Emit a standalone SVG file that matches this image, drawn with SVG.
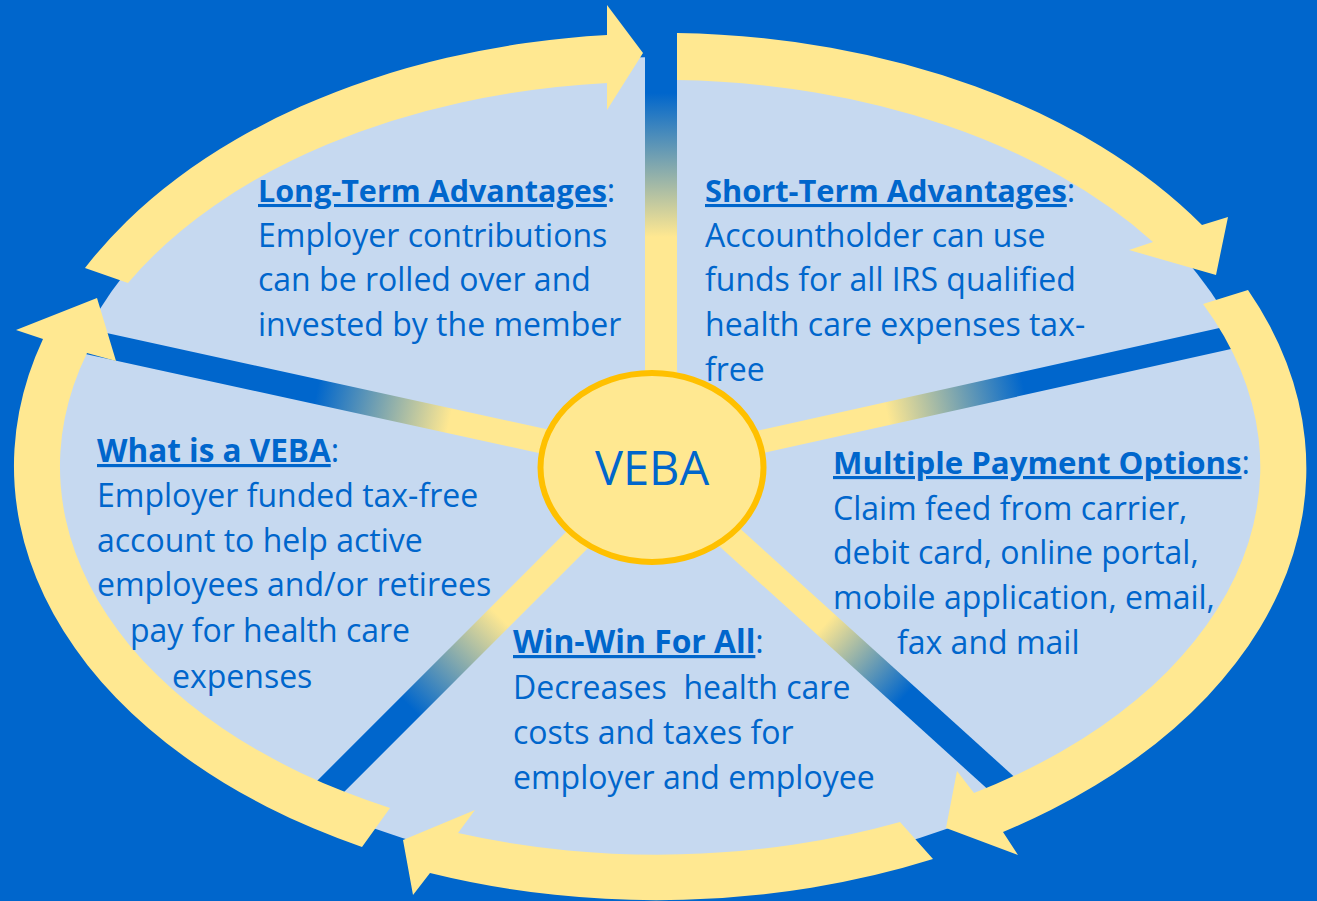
<svg xmlns="http://www.w3.org/2000/svg" width="1317" height="901" viewBox="0 0 1317 901">
  <style>
    .arrow { fill: #FFE891; }
    .spoke { fill: none; stroke-linecap: butt; }
    .t { font-family: "Open Sans", "Noto Sans", "Liberation Sans", sans-serif; font-size: 32px; fill: #0066CC; }
    .h { font-weight: bold; text-decoration: underline; font-size: 30.5px; }
  </style>
  <defs>
    <linearGradient id="gTop" gradientUnits="userSpaceOnUse" x1="661" y1="93" x2="661" y2="237">
      <stop offset="0" stop-color="#0066CC"/><stop offset="1" stop-color="#FFE891"/>
    </linearGradient>
    <linearGradient id="gUL" gradientUnits="userSpaceOnUse" x1="317" y1="390" x2="450" y2="419">
      <stop offset="0" stop-color="#0066CC"/><stop offset="1" stop-color="#FFE891"/>
    </linearGradient>
    <linearGradient id="gUR" gradientUnits="userSpaceOnUse" x1="1023" y1="384" x2="887" y2="414">
      <stop offset="0" stop-color="#0066CC"/><stop offset="1" stop-color="#FFE891"/>
    </linearGradient>
    <linearGradient id="gLL" gradientUnits="userSpaceOnUse" x1="410" y1="707" x2="500" y2="617">
      <stop offset="0" stop-color="#0066CC"/><stop offset="1" stop-color="#FFE891"/>
    </linearGradient>
    <linearGradient id="gLR" gradientUnits="userSpaceOnUse" x1="905" y1="696" x2="825" y2="624">
      <stop offset="0" stop-color="#0066CC"/><stop offset="1" stop-color="#FFE891"/>
    </linearGradient>
  </defs>

  <rect x="0" y="0" width="1317" height="901" fill="#0066CC"/>
  <ellipse id="field" cx="661" cy="467" rx="608" ry="410" fill="#C6D9F0"/>

  <g id="connectors">
    <line class="spoke" x1="661" y1="20" x2="661" y2="460" stroke="url(#gTop)" stroke-width="32"/>
    <line class="spoke" x1="652" y1="465" x2="80" y2="340" stroke="url(#gUL)" stroke-width="25"/>
    <line class="spoke" x1="652" y1="466" x2="1250" y2="333" stroke="url(#gUR)" stroke-width="23"/>
    <line class="spoke" x1="652" y1="465" x2="310" y2="807" stroke="url(#gLL)" stroke-width="27"/>
    <line class="spoke" x1="652" y1="467" x2="1012" y2="793" stroke="url(#gLR)" stroke-width="27"/>
  </g>

  <g id="cycle-arrows">
    <path class="arrow" d="M 85,268 A 647.5 429.5 0 0 1 607,35 L 607,5 L 643,53 L 607,110 L 607,83 A 600.5 382.5 0 0 0 128,283 Z"/>
    <path class="arrow" d="M 677,33 A 647.5 429.5 0 0 1 1202,225 L 1228,217 L 1216,275 L 1129,250 L 1153,242 A 600.5 382.5 0 0 0 677,80 Z"/>
    <path class="arrow" d="M 1248,290 A 647.5 429.5 0 0 1 1003,832 L 1018,855 L 946,828 L 957,771 L 974,793 A 600.5 382.5 0 0 0 1203,304 Z"/>
    <path class="arrow" d="M 933,859 A 647.5 429.5 0 0 1 430,873 L 413,895 L 403,840 L 475,810 L 458,833 A 600.5 382.5 0 0 0 900,822 Z"/>
    <path class="arrow" d="M 362,847 A 647.5 429.5 0 0 1 43,339 L 16,330 L 97,298 L 116,361 L 87,353 A 600.5 382.5 0 0 0 390,808 Z"/>
  </g>

  <g id="node-veba">
    <ellipse cx="652" cy="467.5" rx="111.5" ry="94.5" fill="#FFE891" stroke="#FFC000" stroke-width="6"/>
    <text class="t" x="652" y="485" text-anchor="middle" style="font-size:47px">VEBA</text>
  </g>

  <g id="node-long-term">
    <text class="t" x="258" y="202"><tspan class="h">Long-Term Advantages</tspan>:</text>
    <text class="t" x="258" y="247">Employer contributions</text>
    <text class="t" x="258" y="291">can be rolled over and</text>
    <text class="t" x="258" y="336">invested by the member</text>
  </g>

  <g id="node-short-term">
    <text class="t" x="705" y="202"><tspan class="h" style="font-size:30.8px">Short-Term Advantages</tspan>:</text>
    <text class="t" x="705" y="247">Accountholder can use</text>
    <text class="t" x="705" y="291">funds for all IRS qualified</text>
    <text class="t" x="705" y="336">health care expenses tax-</text>
    <text class="t" x="705" y="381">free</text>
  </g>

  <g id="node-what-is">
    <text class="t" x="97" y="462"><tspan class="h" style="font-size:31.5px">What is a VEBA</tspan>:</text>
    <text class="t" x="97" y="507">Employer funded tax-free</text>
    <text class="t" x="97" y="552">account to help active</text>
    <text class="t" x="97" y="596">employees and/or retirees</text>
    <text class="t" x="130" y="642">pay for health care</text>
    <text class="t" x="172" y="688">expenses</text>
  </g>

  <g id="node-payment">
    <text class="t" x="833" y="474"><tspan class="h" style="font-size:31.2px">Multiple Payment Options</tspan>:</text>
    <text class="t" x="833" y="520">Claim feed from carrier,</text>
    <text class="t" x="833" y="564">debit card, online portal,</text>
    <text class="t" x="833" y="609">mobile application, email,</text>
    <text class="t" x="897" y="654">fax and mail</text>
  </g>

  <g id="node-win-win">
    <text class="t" x="513" y="653"><tspan class="h" style="font-size:31.8px">Win-Win For All</tspan>:</text>
    <text class="t" x="513" y="699" style="white-space:pre">Decreases  health care</text>
    <text class="t" x="513" y="744">costs and taxes for</text>
    <text class="t" x="513" y="789">employer and employee</text>
  </g>
</svg>
